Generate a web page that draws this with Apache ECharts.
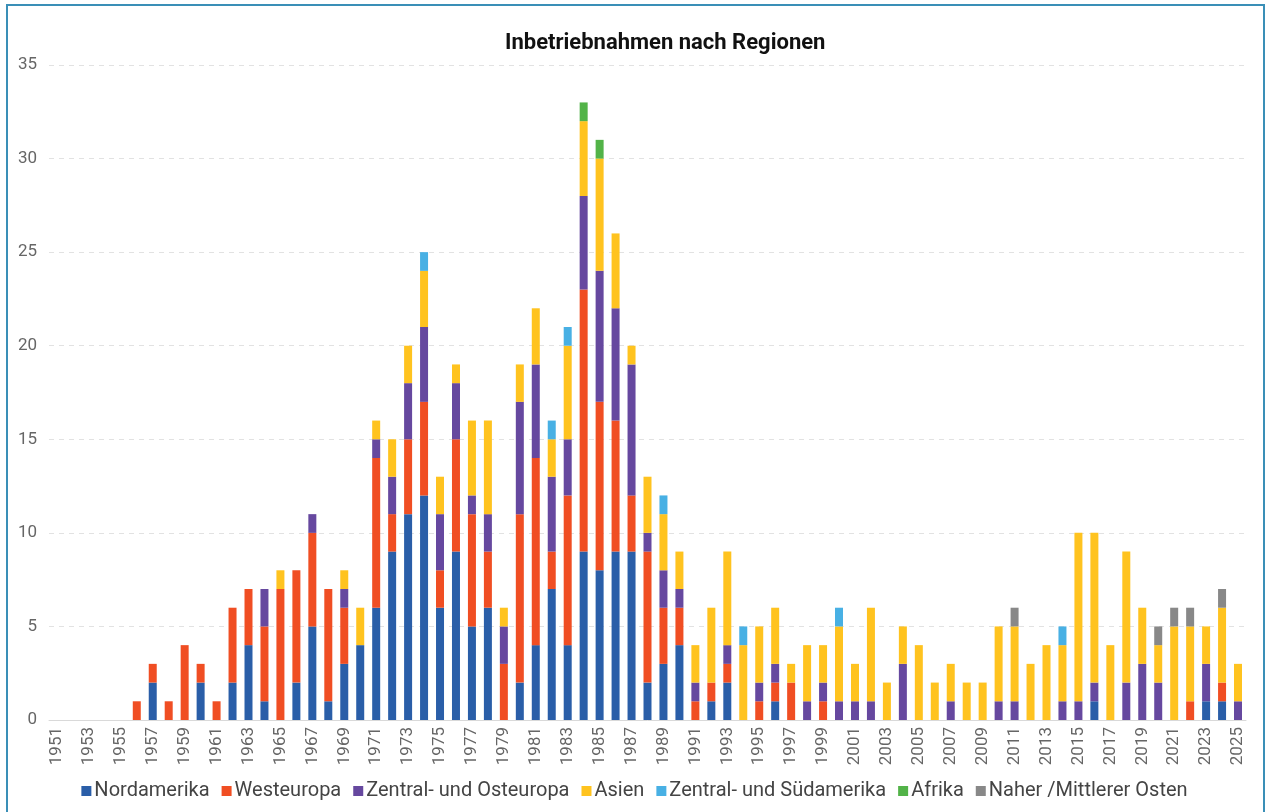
<!DOCTYPE html>
<html>
<head>
<meta charset="utf-8">
<script src="https://cdn.jsdelivr.net/npm/echarts@6/dist/echarts.min.js"></script>
<style>
  html, body { margin: 0; padding: 0; background: #fff; overflow: hidden; }
  #chart-container { position: absolute; left: 0; top: 0; width: 1269px; height: 812px; }
  #frame { position: absolute; left: 6px; top: 4px; width: 1255px; height: 830px;
           border: 2px solid #3a8fb7; pointer-events: none; }
</style>
</head>
<body>
<div id="chart-container"></div>
<div id="frame"></div>
<script>
// years 1951..2025
const years = [];
for (let y = 1951; y <= 2025; y++) years.push(String(y));

// one value per year, 1951..2025
const nordamerika = [
  0, 0, 0, 0, 0, 0, 2, 0, 0, 2, // 1951-1960
  0, 2, 4, 1, 0, 2, 5, 1, 3, 4, // 1961-1970
  6, 9, 11, 12, 6, 9, 5, 6, 0, 2, // 1971-1980
  4, 7, 4, 9, 8, 9, 9, 2, 3, 4, // 1981-1990
  0, 1, 2, 0, 0, 1, 0, 0, 0, 0, // 1991-2000
  0, 0, 0, 0, 0, 0, 0, 0, 0, 0, // 2001-2010
  0, 0, 0, 0, 0, 1, 0, 0, 0, 0, // 2011-2020
  0, 0, 1, 1, 0 // 2021-2025
];
const westeuropa = [
  0, 0, 0, 0, 0, 1, 1, 1, 4, 1,
  1, 4, 3, 4, 7, 6, 5, 6, 3, 0,
  8, 2, 4, 5, 2, 6, 6, 3, 3, 9,
  10, 2, 8, 14, 9, 7, 3, 7, 3, 2,
  1, 1, 1, 0, 1, 1, 2, 0, 1, 0,
  0, 0, 0, 0, 0, 0, 0, 0, 0, 0,
  0, 0, 0, 0, 0, 0, 0, 0, 0, 0,
  0, 1, 0, 1, 0
];
const osteuropa = [
  0, 0, 0, 0, 0, 0, 0, 0, 0, 0,
  0, 0, 0, 2, 0, 0, 1, 0, 1, 0,
  1, 2, 3, 4, 3, 3, 1, 2, 2, 6,
  5, 4, 3, 5, 7, 6, 7, 1, 2, 1,
  1, 0, 1, 0, 1, 1, 0, 1, 1, 1,
  1, 1, 0, 3, 0, 0, 1, 0, 0, 1,
  1, 0, 0, 1, 1, 1, 0, 2, 3, 2,
  0, 0, 2, 0, 1
];
const asien = [
  0, 0, 0, 0, 0, 0, 0, 0, 0, 0,
  0, 0, 0, 0, 1, 0, 0, 0, 1, 2,
  1, 2, 2, 3, 2, 1, 4, 5, 1, 2,
  3, 2, 5, 4, 6, 4, 1, 3, 3, 2,
  2, 4, 5, 4, 3, 3, 1, 3, 2, 4,
  2, 5, 2, 2, 4, 2, 2, 2, 2, 4,
  4, 3, 4, 3, 9, 8, 4, 7, 3, 2,
  5, 4, 2, 4, 2
];
const suedamerika = [
  0, 0, 0, 0, 0, 0, 0, 0, 0, 0,
  0, 0, 0, 0, 0, 0, 0, 0, 0, 0,
  0, 0, 0, 1, 0, 0, 0, 0, 0, 0,
  0, 1, 1, 0, 0, 0, 0, 0, 1, 0,
  0, 0, 0, 1, 0, 0, 0, 0, 0, 1,
  0, 0, 0, 0, 0, 0, 0, 0, 0, 0,
  0, 0, 0, 1, 0, 0, 0, 0, 0, 0,
  0, 0, 0, 0, 0
];
const afrika = [
  0, 0, 0, 0, 0, 0, 0, 0, 0, 0,
  0, 0, 0, 0, 0, 0, 0, 0, 0, 0,
  0, 0, 0, 0, 0, 0, 0, 0, 0, 0,
  0, 0, 0, 1, 1, 0, 0, 0, 0, 0,
  0, 0, 0, 0, 0, 0, 0, 0, 0, 0,
  0, 0, 0, 0, 0, 0, 0, 0, 0, 0,
  0, 0, 0, 0, 0, 0, 0, 0, 0, 0,
  0, 0, 0, 0, 0
];
const nahost = [
  0, 0, 0, 0, 0, 0, 0, 0, 0, 0,
  0, 0, 0, 0, 0, 0, 0, 0, 0, 0,
  0, 0, 0, 0, 0, 0, 0, 0, 0, 0,
  0, 0, 0, 0, 0, 0, 0, 0, 0, 0,
  0, 0, 0, 0, 0, 0, 0, 0, 0, 0,
  0, 0, 0, 0, 0, 0, 0, 0, 0, 0,
  1, 0, 0, 0, 0, 0, 0, 0, 0, 1,
  1, 1, 0, 1, 0
];

function buildSeries(name, color, data) {
  return {
    name,
    type: 'bar',
    stack: 'total',
    barWidth: 8,
    itemStyle: { color },
    emphasis: { disabled: true },
    data: data.map((v) => (v === 0 ? null : v)),
  };
}

let series = [
  buildSeries('Nordamerika', '#2a5ea8', nordamerika),
  buildSeries('Westeuropa', '#f04e23', westeuropa),
  buildSeries('Zentral- und Osteuropa', '#66489f', osteuropa),
  buildSeries('Asien', '#ffc31f', asien),
  buildSeries('Zentral- und Südamerika', '#48b0e4', suedamerika),
  buildSeries('Afrika', '#52b348', afrika),
  buildSeries('Naher /Mittlerer Osten', '#888888', nahost),
];

let option = {
  animation: false,
  textStyle: { fontFamily: 'Roboto' },
  title: {
    text: 'Inbetriebnahmen nach Regionen',
    left: 500,
    top: 27,
    textStyle: { fontFamily: 'Roboto', fontSize: 22, fontWeight: 'bold', color: '#111' },
  },
  legend: {
    bottom: 6,
    left: 'center',
    icon: 'rect',
    itemWidth: 10,
    itemHeight: 10,
    itemGap: 12,
    textStyle: { fontSize: 20, color: '#444', padding: [0, 0, 0, -2] },
  },
  grid: { left: 49, right: 23, top: 65, bottom: 92 },
  xAxis: {
    type: 'category',
    data: years,
    axisTick: { show: false },
    axisLine: { lineStyle: { color: '#d9d9d9' } },
    axisLabel: { interval: 1, rotate: 90, fontSize: 17, color: '#666', margin: 7 },
  },
  yAxis: {
    type: 'value',
    min: 0,
    max: 35,
    interval: 5,
    axisLabel: { fontSize: 17, color: '#666', margin: 12 },
    splitLine: { lineStyle: { color: '#e2e2e2', type: [5, 5] } },
  },
  series,
};

var myChart = echarts.init(document.getElementById('chart-container'));
myChart.setOption(option);
</script>
</body>
</html>
